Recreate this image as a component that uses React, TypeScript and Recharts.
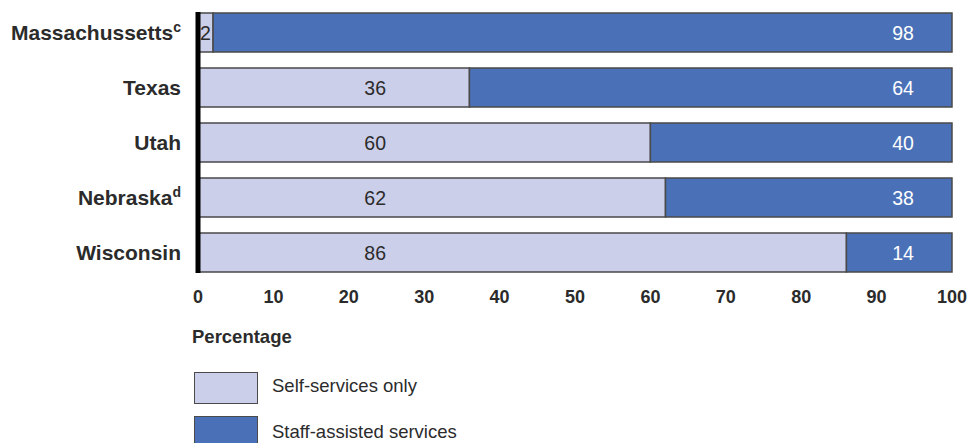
import { BarChart, Bar, XAxis, YAxis, LabelList } from "recharts";

// state names and footnote marks (as printed)
const states = ["Massachussetts", "Texas", "Utah", "Nebraska", "Wisconsin"];
const notes = ["c", "", "", "d", ""];
const selfOnly = [2, 36, 60, 62, 86];
const staffAssisted = [98, 64, 40, 38, 14];
const xTicks = [0, 10, 20, 30, 40, 50, 60, 70, 80, 90, 100];

const LIGHT = "#CBCFEA";
const DARK = "#4A71B7";
const EDGE = "#4a4a4a";
const TEXT = "#2b2b2b";
const FONT = "'Liberation Sans', Arial, sans-serif";

const data = states.map((s, i) => ({
  state: s,
  note: notes[i],
  self: selfOnly[i],
  staff: staffAssisted[i],
}));

const StateTick = (props: any) => {
  const { x, y, payload, index } = props;
  const mark = notes[index] || "";
  return (
    <text x={x} y={y} dy="0.36em" textAnchor="end" fontSize={21} fontWeight="bold" fill={TEXT} fontFamily={FONT}>
      {payload.value}
      {mark ? (
        <tspan fontSize={14} dy={-8}>
          {mark}
        </tspan>
      ) : null}
    </text>
  );
};

// labels in the light segment sit at a fixed spot unless the segment is tiny
const SelfLabel = (props: any) => {
  const { x, y, width, height, value } = props;
  const cx = value > 5 ? x + (width * 23.5) / value : x + width / 2;
  return (
    <text x={cx} y={y + height / 2} dy="0.36em" textAnchor="middle" fontSize={19.5} fill={TEXT} fontFamily={FONT}>
      {value}
    </text>
  );
};

// labels in the dark segment are lined up near the right end
const StaffLabel = (props: any) => {
  const { x, y, width, height, value } = props;
  const cx = x + width - (width * 6.5) / value;
  return (
    <text x={cx} y={y + height / 2} dy="0.36em" textAnchor="middle" fontSize={19.5} fill="#ffffff" fontFamily={FONT}>
      {value}
    </text>
  );
};

export default function App() {
  return (
    <div style={{ position: "absolute", left: 0, top: 0, width: 969, height: 443, background: "#fff", fontFamily: FONT, overflow: "hidden" }}>
      <BarChart
        width={969}
        height={310}
        data={data}
        layout="vertical"
        margin={{ top: 5, right: 17, bottom: 0, left: 0 }}
      >
        <XAxis
          type="number"
          domain={[0, 100]}
          ticks={xTicks}
          axisLine={false}
          tickLine={false}
          tickSize={0}
          tickMargin={10}
          height={30}
          tick={{ fontSize: 18, fontWeight: "bold", fill: TEXT, fontFamily: FONT }}
        />
        <YAxis
          type="category"
          dataKey="state"
          width={198}
          tickLine={false}
          tickSize={0}
          tickMargin={17}
          axisLine={{ stroke: "#000", strokeWidth: 5, strokeDasharray: "0 7 261 40" }}
          tick={<StateTick />}
        />
        <Bar dataKey="self" stackId="a" fill={LIGHT} stroke={EDGE} strokeWidth={1.5} barSize={39} isAnimationActive={false}>
          <LabelList dataKey="self" content={<SelfLabel />} />
        </Bar>
        <Bar dataKey="staff" stackId="a" fill={DARK} stroke={EDGE} strokeWidth={1.5} barSize={39} isAnimationActive={false}>
          <LabelList dataKey="staff" content={<StaffLabel />} />
        </Bar>
      </BarChart>

      <div style={{ position: "absolute", left: 192, top: 327, fontSize: 18.5, lineHeight: "20px", fontWeight: "bold", color: TEXT }}>
        Percentage
      </div>

      <div style={{ position: "absolute", left: 194, top: 372, width: 62, height: 30, background: LIGHT, border: `1.5px solid ${EDGE}` }} />
      <div style={{ position: "absolute", left: 272, top: 376, fontSize: 18.5, lineHeight: "20px", color: TEXT }}>
        Self-services only
      </div>

      <div style={{ position: "absolute", left: 194, top: 416, width: 62, height: 30, background: DARK, border: `1.5px solid ${EDGE}` }} />
      <div style={{ position: "absolute", left: 272, top: 422, fontSize: 18.5, lineHeight: "20px", color: TEXT }}>
        Staff-assisted services
      </div>
    </div>
  );
}
